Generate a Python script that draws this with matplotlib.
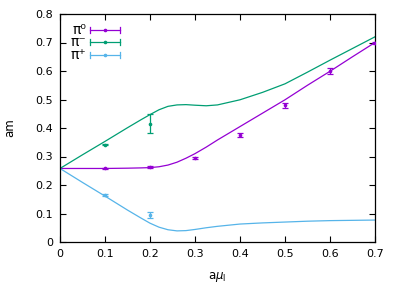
import matplotlib
matplotlib.use("Agg")
import matplotlib.pyplot as plt

# curves
mu_curve = [0, 0.05, 0.1, 0.15, 0.18, 0.2, 0.22, 0.24, 0.26, 0.28, 0.3, 0.325, 0.35,
            0.4, 0.45, 0.5, 0.55, 0.6, 0.65, 0.7]
pi0_curve = [0.258, 0.258, 0.258, 0.259, 0.260, 0.261, 0.264, 0.270, 0.280, 0.294, 0.31,
             0.333, 0.358, 0.405, 0.452, 0.499, 0.55, 0.599, 0.65, 0.70]
pim_curve = [0.258, 0.306, 0.353, 0.401, 0.429, 0.447, 0.464, 0.476, 0.481, 0.482, 0.480,
             0.478, 0.481, 0.499, 0.525, 0.555, 0.596, 0.638, 0.679, 0.72]
pip_curve = [0.258, 0.209, 0.161, 0.112, 0.084, 0.066, 0.052, 0.043, 0.039, 0.040, 0.044,
             0.05, 0.055, 0.063, 0.067, 0.07, 0.073, 0.075, 0.076, 0.077]

# lattice points
pi0_x = [0.1, 0.2, 0.3, 0.4, 0.5, 0.6, 0.7]
pi0_y = [0.258, 0.262, 0.295, 0.376, 0.479, 0.600, 0.698]
pi0_e = [0.003, 0.003, 0.003, 0.006, 0.010, 0.010, 0.003]
pim_x = [0.1, 0.2]
pim_y = [0.342, 0.415]
pim_e = [0.003, 0.033]
pip_x = [0.1, 0.2]
pip_y = [0.166, 0.094]
pip_e = [0.004, 0.011]

labels = ["π⁰", "π⁻", "π⁺"]
colors = ["#9400d3", "#009e73", "#56b4e9"]

fig = plt.figure(figsize=(3.95, 2.96), dpi=100)
ax = fig.add_axes([60 / 395, 54 / 296, 315 / 395, 228 / 296])

series = [(pi0_curve, pi0_x, pi0_y, pi0_e),
          (pim_curve, pim_x, pim_y, pim_e),
          (pip_curve, pip_x, pip_y, pip_e)]
for (curve, px, py, pe), c in zip(series, colors):
    ax.plot(mu_curve, curve, color=c, lw=0.9, zorder=2)
    ax.errorbar(px, py, yerr=pe, fmt="o", ms=1.6, color=c, ecolor=c,
                elinewidth=0.9, capsize=2.5, capthick=0.9, zorder=3)

# gnuplot-like key: label, horizontal bar with caps, point
for i, (lab, c) in enumerate(zip(labels, colors)):
    yk = 1 - (15.5 + 12.7 * i) / 228
    x0, x1 = 30 / 315, 60 / 315
    ax.text(26 / 315, yk, lab, transform=ax.transAxes, ha="right", va="center",
            fontsize=10)
    ax.plot([x0, x1], [yk, yk], transform=ax.transAxes, color=c, lw=0.9)
    for xe in (x0, x1):
        ax.plot([xe, xe], [yk - 3 / 228, yk + 3 / 228], transform=ax.transAxes,
                color=c, lw=0.9)
    ax.plot([(x0 + x1) / 2], [yk], "o", ms=1.6, color=c, transform=ax.transAxes)

ax.set_xlim(0, 0.7)
ax.set_ylim(0, 0.8)
ax.set_xticks([0, 0.1, 0.2, 0.3, 0.4, 0.5, 0.6, 0.7])
ax.set_xticklabels(["0", "0.1", "0.2", "0.3", "0.4", "0.5", "0.6", "0.7"])
ax.set_yticks([0, 0.1, 0.2, 0.3, 0.4, 0.5, 0.6, 0.7, 0.8])
ax.set_yticklabels(["0", "0.1", "0.2", "0.3", "0.4", "0.5", "0.6", "0.7", "0.8"])
ax.tick_params(direction="in", top=True, right=True, length=4, width=0.8,
               labelsize=8, pad=5)
for s in ax.spines.values():
    s.set_linewidth(0.9)
ax.set_xlabel(r"a$\mu_{\rm I}$", fontsize=8.5, labelpad=8)
ax.set_ylabel("am", fontsize=8.5, labelpad=14)

fig.savefig("out.png", dpi=100)
